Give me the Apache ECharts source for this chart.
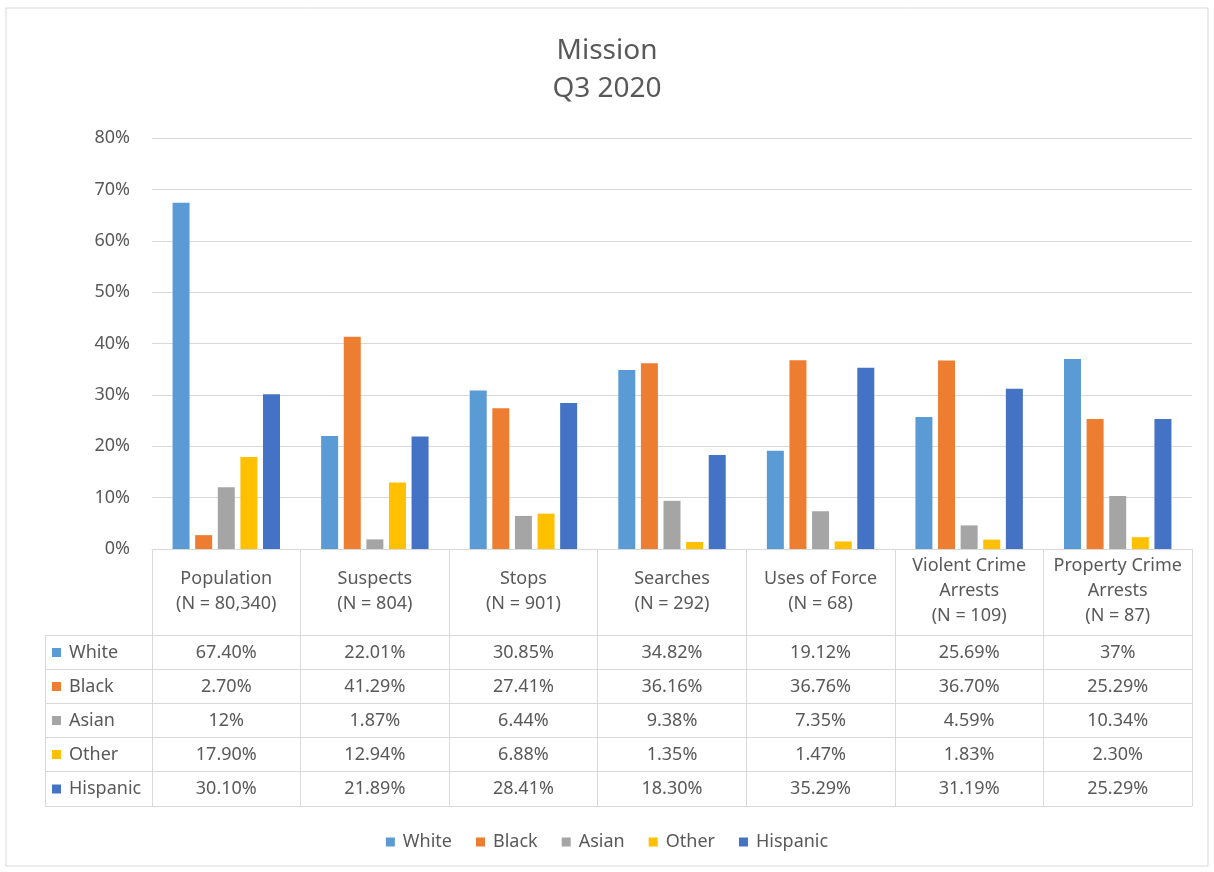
<!DOCTYPE html>
<html>
<head>
<meta charset="utf-8">
<title>Mission Q3 2020</title>
<script src="https://cdn.jsdelivr.net/npm/echarts@6/dist/echarts.min.js"></script>
<style>
  html, body { margin: 0; padding: 0; background: #fff; }
  #chart { width: 1214px; height: 872px; }
</style>
</head>
<body>
<div id="chart"></div>
<script>
// categories (table header text)
const categories = [
  'Population\n(N = 80,340)',
  'Suspects\n(N = 804)',
  'Stops\n(N = 901)',
  'Searches\n(N = 292)',
  'Uses of Force\n(N = 68)',
  'Violent Crime\nArrests\n(N = 109)',
  'Property Crime\nArrests\n(N = 87)'
];
const seriesNames = ['White', 'Black', 'Asian', 'Other', 'Hispanic'];
const white = [67.40, 22.01, 30.85, 34.82, 19.12, 25.69, 37];
const black = [2.70, 41.29, 27.41, 36.16, 36.76, 36.70, 25.29];
const asian = [12, 1.87, 6.44, 9.38, 7.35, 4.59, 10.34];
const other = [17.90, 12.94, 6.88, 1.35, 1.47, 1.83, 2.30];
const hispanic = [30.10, 21.89, 28.41, 18.30, 35.29, 31.19, 25.29];
const yTicks = [0, 10, 20, 30, 40, 50, 60, 70, 80];

const colors = ['#5B9BD5', '#ED7D31', '#A5A5A5', '#FFC000', '#4472C4'];
const allData = [white, black, asian, other, hispanic];
const textColor = '#595959';
const lineColor = '#d9d9d9';
const font = '"Noto Sans", "Open Sans", sans-serif';
const fs = 18;

// layout of the data table under the plot
const gridLeft = 152, gridRight = 22, gridTop = 138, axisY = 549;
const rowLines = [635, 669, 703, 737, 771, 806];
const tableLeft = 45;

function fmt(v) {
  return Number.isInteger(v) ? v + '%' : v.toFixed(2) + '%';
}

const chart = echarts.init(document.getElementById('chart'));

chart.setOption({
  animation: false,
  color: colors,
  textStyle: { fontFamily: font },
  title: {
    text: 'Mission\nQ3 2020',
    left: 'center',
    top: 27,
    textStyle: {
      fontSize: 28,
      fontWeight: 'normal',
      color: textColor,
      lineHeight: 38,
      fontFamily: font
    }
  },
  legend: {
    top: 828,
    left: 'center',
    icon: 'rect',
    itemWidth: 9,
    itemHeight: 9,
    itemGap: 24,
    textStyle: { fontSize: fs, color: textColor, padding: [0, 0, 0, 3] },
    data: seriesNames
  },
  grid: {
    left: gridLeft,
    right: gridRight,
    top: gridTop,
    bottom: 872 - axisY
  },
  xAxis: {
    type: 'category',
    data: categories,
    axisLine: { lineStyle: { color: lineColor } },
    axisTick: {
      show: true,
      length: rowLines[rowLines.length - 1] - axisY,
      lineStyle: { color: lineColor }
    },
    axisLabel: {
      interval: 0,
      margin: 42,
      verticalAlign: 'middle',
      fontSize: fs,
      lineHeight: 25,
      color: textColor
    }
  },
  yAxis: {
    type: 'value',
    min: yTicks[0],
    max: yTicks[yTicks.length - 1],
    interval: 10,
    axisLine: { show: false },
    axisTick: { show: false },
    axisLabel: {
      formatter: '{value}%',
      fontSize: fs,
      color: textColor,
      margin: 22
    },
    splitLine: { lineStyle: { color: lineColor } }
  },
  series: seriesNames.map((name, i) => ({
    name: name,
    type: 'bar',
    data: allData[i],
    barWidth: 17,
    barGap: '33%',
    itemStyle: { color: colors[i] }
  }))
});

// data table drawn from the series arrays, columns placed by the x axis
const graphics = [];
graphics.push({
  type: 'rect',
  shape: { x: 6, y: 8, width: 1202, height: 858 },
  style: { fill: 'none', stroke: lineColor, lineWidth: 1 },
  silent: true
});
const tableRight = 1214 - gridRight;
rowLines.forEach(y => {
  graphics.push({
    type: 'line',
    shape: { x1: tableLeft, y1: y + 0.5, x2: tableRight, y2: y + 0.5 },
    style: { stroke: lineColor, lineWidth: 1 }
  });
});
graphics.push({
  type: 'line',
  shape: { x1: tableLeft + 0.5, y1: rowLines[0], x2: tableLeft + 0.5, y2: rowLines[rowLines.length - 1] },
  style: { stroke: lineColor, lineWidth: 1 }
});
seriesNames.forEach((name, r) => {
  const cy = (rowLines[r] + rowLines[r + 1]) / 2 + 0.5;
  graphics.push({
    type: 'rect',
    shape: { x: 52, y: cy - 4.5, width: 9, height: 9 },
    style: { fill: colors[r] }
  });
  graphics.push({
    type: 'text',
    x: 69,
    y: cy,
    style: {
      text: name,
      fontSize: fs,
      fontFamily: font,
      fill: textColor,
      verticalAlign: 'middle'
    }
  });
  allData[r].forEach((v, c) => {
    const cx = chart.convertToPixel({ xAxisIndex: 0 }, c);
    graphics.push({
      type: 'text',
      x: cx,
      y: cy,
      style: {
        text: fmt(v),
        fontSize: fs,
        fontFamily: font,
        fill: textColor,
        align: 'center',
        verticalAlign: 'middle'
      }
    });
  });
});
chart.setOption({ graphic: graphics });
</script>
</body>
</html>
